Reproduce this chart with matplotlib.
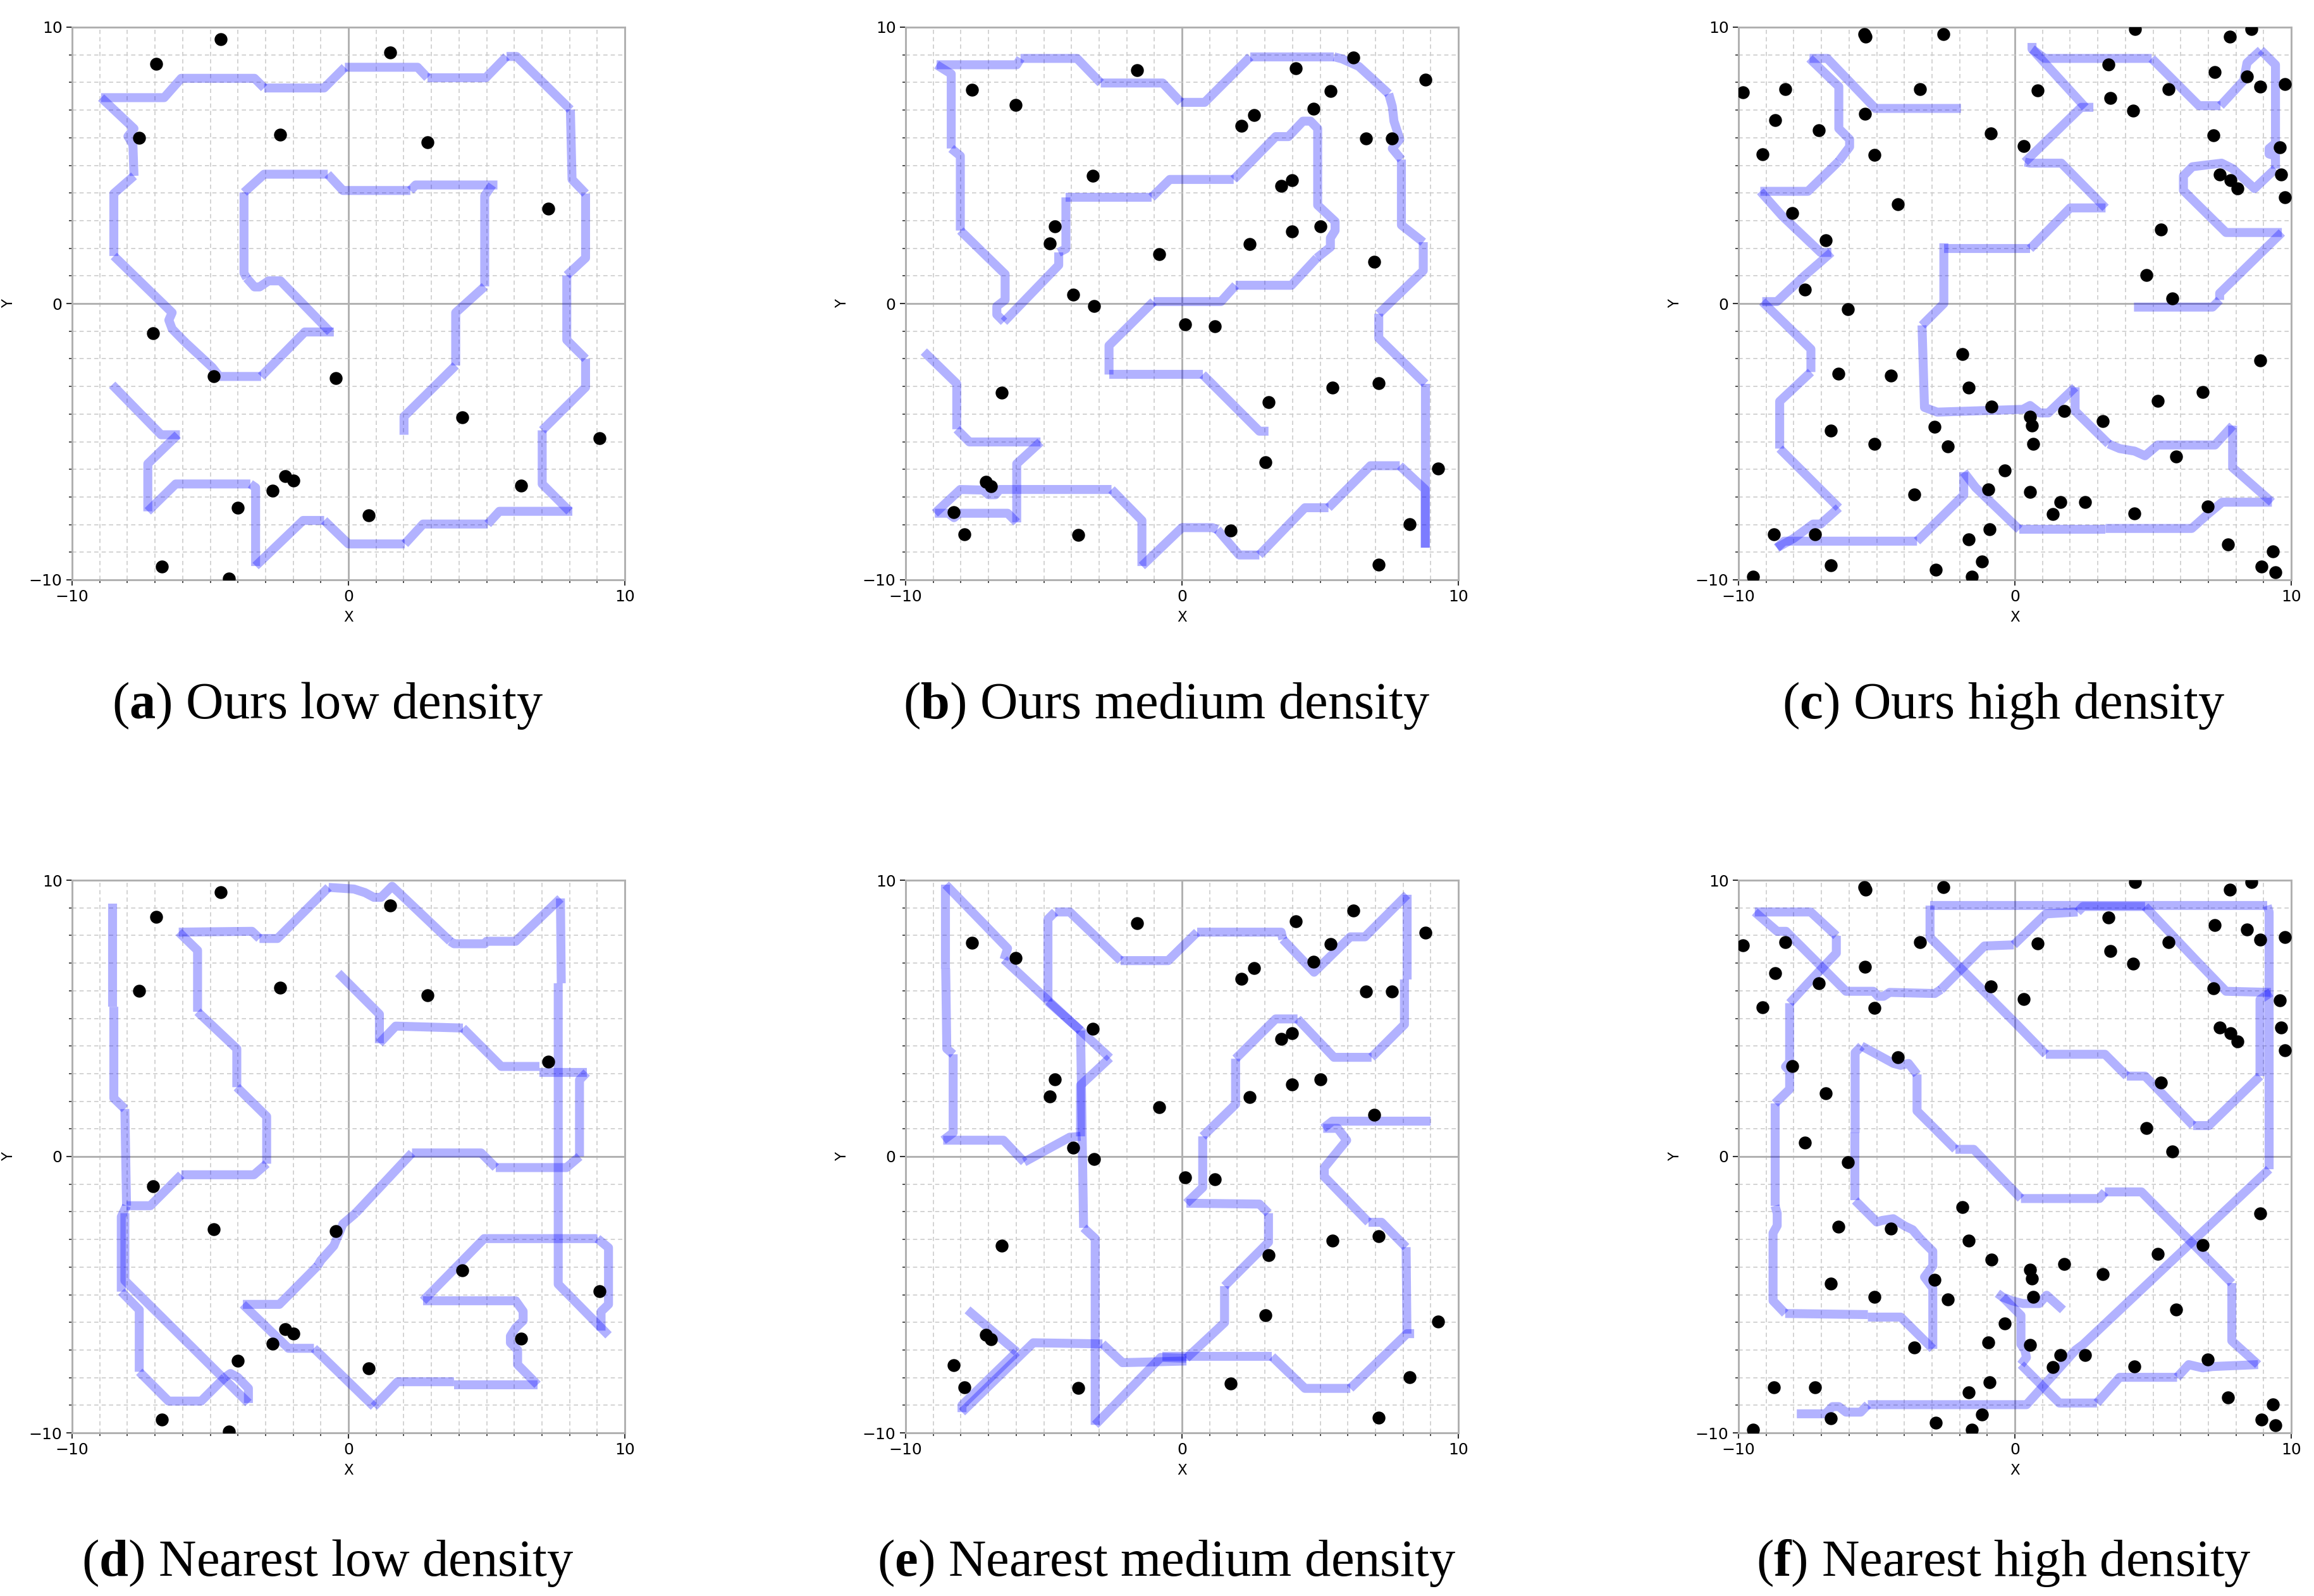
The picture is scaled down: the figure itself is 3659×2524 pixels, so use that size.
"""Coverage paths: ours vs nearest-neighbour at three obstacle densities."""

import matplotlib
matplotlib.use('Agg')
import matplotlib.pyplot as plt
from matplotlib.ticker import MultipleLocator, FixedLocator

plt.rcParams['mathtext.fontset'] = 'custom'
plt.rcParams['mathtext.rm'] = 'Liberation Serif'
plt.rcParams['mathtext.bf'] = 'Liberation Serif:bold'

# ── 1. Target points (shared by both planners) ────────────────────────────────
LOW_PTS = [(-4.63, 9.56), (-6.95, 8.68), (1.51, 9.08), (-7.57, 6.0), (-2.46, 6.12),
           (2.87, 5.84), (7.24, 3.44), (-7.08, -1.07), (-4.87, -2.64), (-0.46, -2.7),
           (4.12, -4.12), (9.09, -4.87), (-2.28, -6.24), (-2.0, -6.41), (-2.74, -6.77),
           (6.25, -6.6), (-4.0, -7.39), (0.74, -7.66), (-6.76, -9.52), (-4.32, -9.96)]

MED_PTS = [(-1.62, 8.44), (-7.59, 7.74), (-6.02, 7.19), (4.12, 8.51), (6.2, 8.9),
           (8.8, 8.11), (5.37, 7.7), (4.75, 7.04), (2.6, 6.83), (2.14, 6.44),
           (6.65, 5.98), (7.59, 5.98), (-3.23, 4.62), (3.98, 4.46), (3.59, 4.25),
           (-4.59, 2.8), (-4.79, 2.18), (-0.83, 1.78), (2.44, 2.14), (3.98, 2.61),
           (5.01, 2.8), (6.95, 1.5), (-3.94, 0.33), (-3.17, -0.09), (0.12, -0.75),
           (1.19, -0.83), (-6.52, -3.23), (3.13, -3.56), (5.44, -3.05), (7.11, -2.88),
           (3.03, -5.74), (9.26, -5.98), (-7.1, -6.46), (-6.9, -6.62), (-8.25, -7.56),
           (-7.88, -8.35), (-3.76, -8.38), (1.77, -8.22), (8.23, -7.98), (7.12, -9.46)]

HIGH_PTS = [(-5.45, 9.74), (-5.4, 9.65), (-2.59, 9.74), (4.34, 9.92), (8.56, 9.92),
            (7.77, 9.66), (-9.84, 7.65), (-8.31, 7.76), (-3.43, 7.76), (3.39, 8.65),
            (7.22, 8.38), (8.4, 8.22), (8.88, 7.84), (9.76, 7.94), (0.82, 7.72),
            (3.46, 7.43), (5.55, 7.76), (4.29, 6.99), (-8.67, 6.64), (-7.1, 6.28),
            (-5.42, 6.87), (-0.88, 6.16), (-9.14, 5.41), (-5.08, 5.37), (0.33, 5.69),
            (7.19, 6.08), (9.59, 5.65), (7.41, 4.66), (7.81, 4.47), (8.05, 4.16),
            (9.63, 4.66), (9.76, 3.84), (-4.23, 3.59), (-8.05, 3.28), (-6.85, 2.28),
            (5.28, 2.68), (-7.6, 0.51), (4.76, 1.02), (5.69, 0.18), (-6.03, -0.21),
            (-1.91, -1.82), (8.88, -2.06), (-6.39, -2.53), (-4.49, -2.61), (-1.66, -3.05),
            (6.79, -3.21), (5.17, -3.52), (-0.84, -3.72), (1.79, -3.88), (0.55, -4.09),
            (0.62, -4.42), (3.19, -4.26), (-6.66, -4.59), (-2.9, -4.46), (-5.07, -5.09),
            (-2.43, -5.17), (0.66, -5.09), (5.83, -5.53), (-0.37, -6.04), (-3.64, -6.91),
            (-0.96, -6.73), (0.55, -6.81), (1.65, -7.19), (2.55, -7.19), (1.37, -7.61),
            (4.33, -7.59), (6.98, -7.35), (-8.71, -8.35), (-7.24, -8.35), (-0.92, -8.18),
            (-1.66, -8.54), (7.72, -8.71), (9.33, -8.97), (-6.66, -9.47), (-2.86, -9.64),
            (-1.2, -9.34), (8.92, -9.53), (9.43, -9.72), (-9.47, -9.89), (-1.56, -9.89)]

# ── 2. Planned routes, one list per leg (legs share their end points) ────────
OURS_LOW = [
    [(-8.95, 7.45), (-6.67, 7.45), (-6.05, 8.15), (-3.4, 8.15), (-3.05, 7.8)],
    [(-3.05, 7.8), (-0.88, 7.8), (-0.13, 8.55)],
    [(-0.13, 8.55), (2.5, 8.55), (2.86, 8.17)],
    [(2.86, 8.17), (4.97, 8.17), (5.72, 8.94)],
    [(5.72, 8.94), (6.08, 8.94), (8.03, 7.02)],
    [(8.03, 7.02), (8.09, 4.49), (8.58, 3.98)],
    [(8.58, 3.98), (8.58, 1.65), (7.9, 1.02)],
    [(7.9, 1.02), (7.9, -1.32), (8.58, -2.0)],
    [(8.58, -2.0), (8.58, -3.03), (7.01, -4.59)],
    [(7.01, -4.59), (7.01, -6.53), (8.0, -7.52)],
    [(8.1, -7.52), (5.46, -7.52), (5.04, -7.98)],
    [(5.04, -7.98), (2.7, -7.98), (2.04, -8.7)],
    [(2.04, -8.7), (0.0, -8.7), (-0.88, -7.85)],
    [(-0.88, -7.85), (-1.64, -7.85), (-3.36, -9.5)],
    [(-3.36, -9.5), (-3.36, -6.66), (-3.55, -6.53)],
    [(-3.55, -6.53), (-6.25, -6.53), (-7.26, -7.52)],
    [(-7.26, -7.52), (-7.26, -5.8), (-6.18, -4.75)],
    [(-6.1, -4.75), (-6.78, -4.75), (-8.55, -2.94)],
    [(-8.95, 7.45), (-7.76, 6.33), (-7.98, 6.05), (-7.8, 5.75), (-7.76, 4.62)],
    [(-7.76, 4.62), (-8.49, 3.98), (-8.49, 1.72)],
    [(-8.49, 1.72), (-6.38, -0.33), (-6.5, -0.6), (-6.38, -0.92), (-5.92, -1.39)],
    [(-5.92, -1.39), (-4.93, -2.31), (-4.67, -2.64), (-3.16, -2.64)],
    [(-3.16, -2.64), (-1.58, -1.03), (-0.53, -1.03)],
    [(-0.66, -1.03), (-2.46, 0.82), (-2.89, 0.82), (-3.22, 0.6), (-3.4, 0.6), (-3.68, 0.92)],
    [(-3.68, 0.92), (-3.78, 1.1), (-3.78, 4.02)],
    [(-3.78, 4.02), (-3.05, 4.68), (-0.75, 4.68)],
    [(-0.75, 4.68), (-0.2, 4.09), (2.24, 4.09)],
    [(2.24, 4.09), (2.43, 4.29), (5.39, 4.29)],
    [(5.2, 4.29), (4.93, 3.9), (4.93, 0.62)],
    [(4.93, 0.62), (3.88, -0.33), (3.88, -2.24)],
    [(3.88, -2.24), (2.01, -4.09), (2.01, -4.75)],
]

OURS_MED = [
    [(-8.88, 8.64), (-5.98, 8.64), (-5.84, 8.87)],
    [(-5.84, 8.87), (-3.8, 8.87), (-2.94, 7.98)],
    [(-2.94, 7.98), (-0.7, 7.98), (-0.04, 7.28)],
    [(-0.04, 7.28), (0.82, 7.28), (2.47, 8.93)],
    [(2.47, 8.93), (5.5, 8.93)],
    [(5.5, 8.93), (5.8, 8.85), (6.4, 8.58), (7.48, 7.59)],
    [(7.48, 7.59), (7.61, 7.13), (7.67, 6.6), (7.8, 6.2), (7.88, 5.94), (7.61, 5.61), (7.94, 5.21)],
    [(7.94, 5.21), (7.94, 2.84), (8.73, 2.22)],
    [(8.73, 2.22), (8.73, 1.19), (7.12, -0.37)],
    [(7.12, -0.37), (7.12, -1.25), (8.8, -2.9)],
    [(8.8, -2.9), (8.8, -8.84)],
    [(8.8, -8.84), (8.8, -6.73), (7.88, -5.87)],
    [(7.88, -5.87), (6.82, -5.87), (5.3, -7.39)],
    [(5.3, -7.39), (4.45, -7.39), (2.8, -9.1)],
    [(2.8, -9.1), (2.07, -9.1), (1.28, -8.18)],
    [(1.28, -8.18), (1.1, -8.11), (0.0, -8.11), (-1.45, -9.5)],
    [(-1.45, -9.5), (-1.45, -7.85), (-2.55, -6.73)],
    [(-2.55, -6.73), (-6.6, -6.73), (-6.75, -6.92), (-7.0, -6.92), (-7.2, -6.75),
     (-8.02, -6.73), (-8.94, -7.59)],
    [(-8.94, -7.59), (-8.45, -7.59), (-8.25, -7.75), (-8.05, -7.59), (-6.31, -7.59), (-5.98, -7.92)],
    [(-5.98, -7.92), (-5.98, -5.8), (-5.12, -5.01)],
    [(-5.12, -5.01), (-7.69, -5.01), (-8.15, -4.55)],
    [(-8.15, -4.55), (-8.15, -2.9), (-9.34, -1.74)],
    [(-8.88, 8.64), (-8.35, 8.31), (-8.35, 5.61)],
    [(-8.35, 5.61), (-8.02, 5.34), (-8.02, 2.64)],
    [(-8.02, 2.64), (-6.4, 1.06), (-6.4, 0.13), (-6.7, -0.1), (-6.7, -0.4), (-6.44, -0.66)],
    [(-6.44, -0.66), (-4.46, 1.39), (-4.46, 1.85)],
    [(-4.46, 1.85), (-4.2, 1.98), (-4.2, 3.84)],
    [(-4.2, 3.84), (-1.1, 3.84)],
    [(-1.1, 3.84), (-0.44, 4.49), (1.87, 4.49)],
    [(1.87, 4.49), (3.39, 6.04), (3.85, 6.04), (4.38, 6.6), (4.65, 6.6), (4.91, 6.33),
     (4.91, 3.56), (5.54, 2.97), (5.54, 2.64), (5.37, 2.37), (5.37, 2.04), (4.88, 1.65)],
    [(4.88, 1.65), (3.96, 0.66), (1.94, 0.66)],
    [(1.94, 0.66), (1.41, 0.07), (-1.03, 0.07)],
    [(-1.03, 0.07), (-2.64, -1.52), (-2.64, -2.57)],
    [(-2.64, -2.57), (0.75, -2.57)],
    [(0.75, -2.57), (2.8, -4.62), (3.13, -4.62)],
]

OURS_HIGH = [
    [(-7.43, 8.87), (-6.79, 8.87), (-5.05, 7.06), (-1.95, 7.06)],
    [(-7.43, 8.87), (-6.37, 7.85), (-6.37, 6.33), (-5.98, 5.94), (-5.98, 5.67), (-6.37, 5.15)],
    [(-6.37, 5.15), (-7.49, 4.06), (-9.21, 4.06)],
    [(-9.21, 4.06), (-8.42, 3.17), (-7.03, 1.85), (-6.64, 1.85)],
    [(-6.64, 1.85), (-7.63, 0.99), (-8.61, 0.07), (-9.14, 0.07)],
    [(-9.14, 0.07), (-7.38, -1.65), (-7.38, -2.48)],
    [(-7.38, -2.48), (-8.51, -3.54), (-8.51, -5.25)],
    [(-8.51, -5.25), (-6.37, -7.39)],
    [(-6.37, -7.39), (-7.03, -7.98), (-7.3, -7.98), (-8.02, -8.51), (-8.61, -8.84)],
    [(-8.61, -8.84), (-8.35, -8.6), (-3.54, -8.6)],
    [(-3.54, -8.6), (-1.85, -6.93), (-1.85, -6.1)],
    [(-1.85, -6.1), (-1.42, -6.66), (0.16, -8.18)],
    [(0.16, -8.18), (3.28, -8.18)],
    [(3.28, -8.14), (6.4, -8.14), (6.95, -7.65), (7.5, -7.19), (9.3, -7.19)],
    [(9.3, -7.19), (7.88, -5.94), (7.88, -4.42)],
    [(7.88, -4.42), (7.24, -5.12), (5.17, -5.12), (4.71, -5.51), (4.33, -5.34),
     (3.79, -5.25), (3.39, -5.08)],
    [(3.39, -5.08), (2.18, -3.89), (2.18, -3.03)],
    [(2.18, -3.03), (1.21, -3.96), (0.9, -3.96), (0.55, -3.69), (0.29, -3.83),
     (-2.81, -3.93), (-3.27, -3.76), (-3.36, -0.79)],
    [(-3.36, -0.79), (-2.57, 0.0), (-2.57, 2.18)],
    [(-2.57, 1.98), (0.55, 1.98)],
    [(0.55, 1.98), (2.0, 3.46), (3.28, 3.46)],
    [(3.28, 3.46), (1.68, 5.08), (0.55, 5.08), (0.36, 5.12)],
    [(0.36, 5.12), (2.4, 7.1), (2.84, 7.1)],
    [(2.55, 7.1), (0.62, 9.21), (0.62, 9.43)],
    [(0.62, 9.21), (1.08, 8.87), (4.95, 8.87)],
    [(4.95, 8.87), (6.66, 7.16), (7.44, 7.16)],
    [(7.44, 7.16), (8.28, 8.07), (8.4, 8.71), (8.9, 9.17)],
    [(8.9, 9.17), (9.43, 8.64), (9.43, 5.8), (9.2, 5.61), (9.2, 5.41), (9.43, 5.34), (9.43, 4.88)],
    [(9.43, 4.88), (8.67, 4.16), (7.88, 4.88), (7.48, 5.08), (6.42, 4.95), (6.1, 4.62),
     (6.1, 4.09), (6.36, 3.83)],
    [(6.36, 3.83), (7.64, 2.57), (9.66, 2.57)],
    [(9.66, 2.57), (7.41, 0.37), (7.41, 0.13)],
    [(7.41, 0.13), (7.15, -0.13), (4.31, -0.13)],
]

NEAR_LOW = [
    [(-8.53, 9.15), (-8.53, 5.42)],
    [(-8.49, 5.42), (-8.49, 2.11), (-8.09, 1.72)],
    [(-8.09, 1.72), (-8.03, -1.78)],
    [(-8.03, -1.78), (-7.17, -1.78), (-6.05, -0.66)],
    [(-6.05, -0.66), (-3.42, -0.66), (-2.96, -0.26)],
    [(-2.96, -0.26), (-2.96, 1.45), (-4.04, 2.51)],
    [(-4.04, 2.51), (-4.04, 3.9), (-5.46, 5.24)],
    [(-5.46, 5.24), (-5.46, 7.46), (-6.14, 8.12)],
    [(-6.14, 8.12), (-3.49, 8.15), (-3.22, 7.89)],
    [(-3.22, 7.89), (-2.57, 7.89), (-0.72, 9.74)],
    [(-0.72, 9.74), (0.2, 9.68), (0.6, 9.55), (0.92, 9.38), (1.18, 9.38), (1.58, 9.78), (3.68, 7.79)],
    [(3.68, 7.79), (3.82, 7.7), (4.93, 7.7), (5.0, 7.79), (6.05, 7.79), (7.67, 9.34)],
    [(7.67, 9.34), (7.7, 6.27)],
    [(7.59, 6.27), (7.59, -4.62), (9.41, -6.47)],
    [(9.14, -6.3), (9.14, -5.61), (9.41, -5.35), (9.41, -3.3), (9.01, -2.97)],
    [(9.01, -2.97), (4.91, -2.97), (2.7, -5.22)],
    [(2.7, -5.22), (6.05, -5.22), (6.32, -5.6), (6.32, -5.94), (6.05, -6.2), (5.86, -6.5),
     (5.86, -6.74), (6.12, -7.0), (6.12, -7.53), (6.84, -8.26)],
    [(6.84, -8.26), (3.82, -8.26)],
    [(3.82, -8.15), (1.78, -8.15), (0.92, -9.05)],
    [(0.92, -9.05), (-1.25, -6.94)],
    [(-1.25, -6.94), (-2.17, -6.94), (-3.82, -5.35)],
    [(-3.82, -5.35), (-2.5, -5.35), (-1.12, -3.96)],
    [(-1.12, -3.96), (-1.0, -3.76), (-0.53, -3.23), (-0.2, -2.44), (0.26, -2.05)],
    [(0.26, -2.05), (2.3, 0.13)],
    [(2.3, 0.13), (4.8, 0.13), (5.33, -0.4)],
    [(5.33, -0.4), (7.89, -0.4), (8.36, 0.0)],
    [(8.36, 0.0), (8.36, 2.77), (8.62, 3.04)],
    [(8.62, 3.04), (6.91, 3.04)],
    [(6.91, 3.26), (5.53, 3.26), (4.14, 4.65)],
    [(4.14, 4.65), (1.71, 4.72), (1.12, 4.1)],
    [(1.12, 4.1), (1.12, 5.15), (-0.37, 6.64)],
    [(-8.03, -1.78), (-8.22, -2.18), (-8.22, -4.89)],
    [(-8.22, -4.89), (-7.57, -5.55), (-7.57, -7.79)],
    [(-7.57, -7.79), (-6.51, -8.85), (-5.33, -8.85), (-4.47, -7.99)],
    [(-4.47, -7.99), (-4.27, -7.85), (-4.01, -7.99), (-3.62, -8.39), (-3.62, -8.92)],
    [(-3.62, -8.92), (-8.09, -4.49), (-8.09, -2.05)],
]

NEAR_MED = [
    [(-8.55, 9.84), (-6.31, 7.53), (-6.44, 7.13)],
    [(-6.44, 7.13), (-2.61, 3.57)],
    [(-2.61, 3.57), (-3.67, 2.58), (-3.67, 0.73)],
    [(-3.67, 0.73), (-4.06, 0.7), (-5.71, -0.2)],
    [(-5.71, -0.2), (-6.46, 0.59), (-8.64, 0.59)],
    [(-8.64, 0.59), (-8.28, 0.86), (-8.28, 3.7)],
    [(-8.28, 3.7), (-8.51, 3.9), (-8.55, 6.8)],
    [(-8.55, 6.8), (-8.55, 9.84)],
    [(-3.67, 4.56), (-3.56, -2.58)],
    [(-3.56, -2.58), (-3.14, -2.97), (-3.14, -9.71)],
    [(-3.14, -9.71), (-0.77, -7.27), (0.16, -7.3)],
    [(0.16, -7.3), (1.54, -6.01), (1.54, -4.69)],
    [(1.54, -4.69), (3.13, -3.1), (3.13, -2.05)],
    [(3.13, -2.05), (2.8, -1.72), (0.16, -1.69)],
    [(0.16, -1.69), (0.75, -1.12), (0.75, 0.73)],
    [(0.75, 0.73), (1.94, 1.89), (1.94, 3.54)],
    [(1.94, 3.54), (3.39, 4.98), (4.18, 4.98)],
    [(4.18, 4.98), (5.5, 3.59), (6.86, 3.59)],
    [(6.86, 3.59), (8.05, 4.78), (8.05, 6.41)],
    [(8.14, 6.41), (8.14, 9.47)],
    [(8.14, 9.47), (6.62, 7.95), (6.09, 7.95), (4.78, 6.67), (3.65, 7.86)],
    [(3.65, 7.86), (3.59, 8.12), (0.55, 8.12)],
    [(0.55, 8.12), (-0.5, 7.09), (-2.22, 7.09)],
    [(-2.22, 7.09), (-4.06, 8.85), (-4.59, 8.85)],
    [(-4.59, 8.85), (-4.85, 8.59), (-4.85, 5.61)],
    [(-4.85, 5.61), (-3.67, 4.56)],
    [(9.0, 1.28), (5.44, 1.28), (5.11, 1.02)],
    [(5.11, 1.02), (5.63, 1.02), (5.96, 0.59), (5.15, -0.4), (5.15, -0.73), (6.75, -2.38)],
    [(6.75, -2.38), (7.22, -2.38), (8.11, -3.28)],
    [(8.11, -3.28), (8.14, -6.41)],
    [(8.4, -6.41), (8.14, -6.41), (6.09, -8.39)],
    [(6.09, -8.39), (4.45, -8.39), (3.26, -7.24)],
    [(3.26, -7.24), (-0.7, -7.24)],
    [(0.16, -7.4), (-2.15, -7.46), (-2.88, -6.78)],
    [(-2.88, -6.78), (-5.38, -6.74), (-7.96, -9.25)],
    [(-7.96, -9.25), (-7.96, -9.0), (-5.98, -7.07)],
    [(-5.98, -7.07), (-7.76, -5.55)],
]

NEAR_HIGH = [
    [(-3.07, 9.08), (9.13, 9.08)],
    [(9.13, 9.08), (9.2, 8.85), (9.2, -0.46)],
    [(9.2, -0.46), (2.47, -6.8), (2.2, -7.0), (0.42, -8.98), (-5.32, -8.98)],
    [(-5.32, -8.98), (-5.58, -9.25), (-6.11, -9.25), (-6.37, -9.05), (-6.6, -9.05),
     (-6.85, -9.31), (-7.89, -9.31)],
    [(-3.07, 9.08), (-3.07, 7.93), (0.03, 4.82), (1.12, 3.7)],
    [(1.12, 3.7), (3.26, 3.7), (4.05, 2.91)],
    [(4.05, 2.91), (4.71, 2.91), (6.45, 1.12)],
    [(6.45, 1.12), (7.02, 1.12), (8.87, 2.91)],
    [(8.87, 2.91), (8.87, 5.68), (9.26, 5.94)],
    [(9.26, 5.94), (7.64, 5.98), (6.53, 7.13)],
    [(6.53, 7.13), (4.71, 9.05)],
    [(4.71, 9.05), (2.47, 9.05), (2.27, 8.85)],
    [(2.27, 8.85), (1.12, 8.78), (-0.04, 7.66)],
    [(-0.04, 7.66), (-1.1, 7.62), (-2.68, 6.04)],
    [(-2.68, 6.04), (-2.9, 5.9), (-4.53, 5.94), (-4.75, 5.8), (-4.95, 5.8), (-5.12, 5.98),
     (-6.11, 5.98), (-8.28, 8.15), (-8.6, 8.15), (-9.41, 8.85)],
    [(-9.41, 8.85), (-7.39, 8.85), (-6.46, 7.99)],
    [(-6.46, 7.99), (-6.46, 7.36), (-7.49, 6.27), (-8.15, 5.55)],
    [(-8.15, 5.55), (-8.15, 3.43), (-8.3, 3.25), (-8.15, 3.1), (-8.15, 2.44), (-8.68, 1.92)],
    [(-8.68, 1.92), (-8.68, -1.78)],
    [(-8.68, -1.78), (-8.6, -2.05), (-8.6, -2.5), (-8.75, -2.77), (-8.75, -5.22), (-8.31, -5.68)],
    [(-8.31, -5.68), (-5.32, -5.72)],
    [(-5.32, -5.81), (-4.13, -5.81), (-2.97, -6.96)],
    [(-2.97, -6.96), (-2.97, -4.76), (-3.27, -4.36), (-2.97, -3.96), (-2.97, -3.43), (-3.43, -2.97)],
    [(-3.43, -2.97), (-3.7, -2.65), (-3.99, -2.51), (-4.4, -2.25), (-4.79, -2.31),
     (-5.0, -2.37), (-5.78, -1.59)],
    [(-5.78, -1.59), (-5.78, 0.86)],
    [(-5.78, 0.86), (-5.78, 3.76), (-5.55, 4.0)],
    [(-5.55, 4.0), (-4.39, 3.37), (-4.13, 3.3), (-3.85, 3.37), (-3.54, 2.97)],
    [(-3.54, 2.97), (-3.54, 1.65), (-2.15, 0.26)],
    [(-2.15, 0.26), (-1.49, 0.26), (0.22, -1.52)],
    [(0.22, -1.52), (3.06, -1.52), (3.26, -1.28)],
    [(3.26, -1.28), (4.58, -1.28), (7.85, -4.58)],
    [(7.85, -4.58), (7.85, -6.67), (8.8, -7.53)],
    [(8.8, -7.53), (7.15, -7.6), (6.8, -7.65), (6.29, -7.53), (5.87, -7.99)],
    [(5.87, -7.99), (3.79, -7.99), (2.97, -8.92)],
    [(2.97, -8.92), (1.61, -8.92), (0.22, -7.53)],
    [(0.22, -7.53), (0.42, -7.27), (0.36, -7.0), (0.22, -6.8), (0.22, -5.75), (-0.44, -5.09)],
    [(-0.63, -4.95), (-0.44, -5.09), (-0.1, -5.22), (0.29, -5.32), (0.88, -5.32),
     (1.15, -5.02), (1.74, -5.55)],
]

CAPTIONS = ['($\\mathbf{a}$) Ours low density', '($\\mathbf{b}$) Ours medium density',
            '($\\mathbf{c}$) Ours high density', '($\\mathbf{d}$) Nearest low density',
            '($\\mathbf{e}$) Nearest medium density', '($\\mathbf{f}$) Nearest high density']

PANELS = [(OURS_LOW, LOW_PTS), (OURS_MED, MED_PTS), (OURS_HIGH, HIGH_PTS),
          (NEAR_LOW, LOW_PTS), (NEAR_MED, MED_PTS), (NEAR_HIGH, HIGH_PTS)]

# ── 3. Figure ─────────────────────────────────────────────────────────────────
W, H = 3659, 2524
fig = plt.figure(figsize=(W / 300, H / 300), dpi=300)

lefts = [114, 1432, 2749]
tops = [43, 1392]
size = 874
cap_x = [518, 1845, 3168]
cap_y = [1116, 2472]

for i, (routes, pts) in enumerate(PANELS):
    r, c = divmod(i, 3)
    ax = fig.add_axes([lefts[c] / W, 1 - (tops[r] + size) / H, size / W, size / H])
    for leg in routes:
        xs, ys = zip(*leg)
        ax.plot(xs, ys, color='blue', alpha=0.3, lw=3.4, solid_capstyle='butt',
                solid_joinstyle='round', zorder=2)
    px, py = zip(*pts)
    ax.scatter(px, py, s=24, c='black', zorder=3, linewidths=0)

    ax.set_xlim(-10, 10)
    ax.set_ylim(-10, 10)
    ax.set_aspect('equal')
    for a in (ax.xaxis, ax.yaxis):
        a.set_major_locator(FixedLocator([-10, 0, 10]))
        a.set_minor_locator(MultipleLocator(1))
    ax.grid(which='major', color='#b0b0b0', lw=0.7, ls='-')
    ax.grid(which='minor', color='#cccccc', lw=0.4, ls=(0, (4, 3)))
    ax.set_axisbelow(True)
    ax.tick_params(which='major', length=2.2, width=0.5, color='#333333',
                   labelsize=6, pad=1.5)
    ax.tick_params(which='minor', length=1.3, width=0.4, color='#333333')
    for s in ax.spines.values():
        s.set_color('#b0b0b0')
        s.set_linewidth(0.7)
    ax.set_xlabel('X', fontsize=5.5, labelpad=2)
    ax.set_ylabel('Y', fontsize=5.5, labelpad=5)

    fig.text(cap_x[c] / W, 1 - cap_y[r] / H, CAPTIONS[i],
             ha='center', va='center', fontsize=19.8, family='Liberation Serif')

fig.savefig('out.png', dpi=300)
